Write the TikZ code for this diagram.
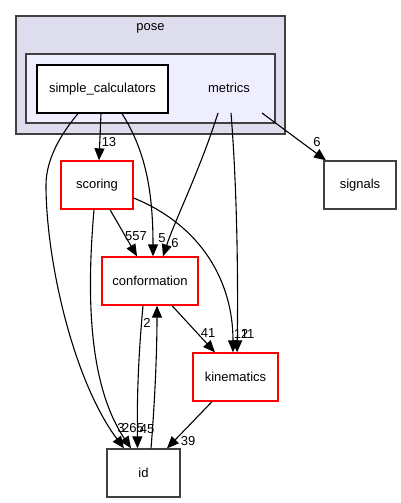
\documentclass[tikz,border=0pt]{standalone}
\usepackage{fontspec}
\setmainfont{Liberation Sans}
\usetikzlibrary{arrows.meta}
\definecolor{gborder}{HTML}{404040}
\definecolor{posefill}{HTML}{DDDDEE}
\definecolor{metfill}{HTML}{EEEEFF}
\tikzset{
  box/.style={draw, line width=1.3pt, rectangle, minimum height=48pt, inner sep=0pt, fill=white, font=\fontsize{13}{15}\selectfont},
  redbox/.style={box, draw=red},
  graybox/.style={box, draw=gborder, line width=1.3pt},
  blackbox/.style={box, draw=black, line width=1.2pt},
  edge/.style={line width=1.1pt, -{Triangle[length=12pt,width=10pt]}},
  lbl/.style={font=\fontsize{13}{15}\selectfont, inner sep=0pt},
  clus/.style={draw=gborder, line width=1.4pt}
}
\begin{document}
\begin{tikzpicture}[x=1pt,y=-1pt]
\useasboundingbox (0,0) rectangle (401,503);
% clusters
\draw[clus, fill=posefill] (16,16) rectangle (285,134);
\node[font=\fontsize{13}{15}\selectfont] (pose) at (150.5,28) {pose};
\draw[clus, fill=metfill] (26,54) rectangle (275,123);
\node[font=\fontsize{13}{15}\selectfont] (metrics) at (229,88) {metrics};
% nodes
\node[blackbox, minimum width=131pt] (sim) at (102.5,89) {simple\_calculators};
\node[redbox, minimum width=72pt] (scoring) at (97,185) {scoring};
\node[graybox, minimum width=72pt] (signals) at (360,185) {signals};
\node[redbox, minimum width=96pt] (conf) at (150,281) {conformation};
\node[redbox, minimum width=85pt] (kin) at (235.5,377) {kinematics};
\node[graybox, minimum width=73pt] (id) at (143.5,473) {id};
% edges
\draw[edge] ([xshift=-24.5pt]sim.south) .. controls (60,135) and (46,160) .. (46,185) .. controls (46,260) and (73,380) .. ([xshift=-19.5pt]id.north);
\draw[edge] ([xshift=-1.5pt]sim.south) -- ([xshift=2pt]scoring.north);
\draw[edge] ([xshift=19.5pt]sim.south) .. controls (145,150) and (153,190) .. ([xshift=3pt]conf.north);
\draw[edge] ([xshift=-11pt,yshift=-25pt]metrics.center) .. controls (200,170) and (175,220) .. ([xshift=13pt]conf.north);
\draw[edge] ([xshift=2pt,yshift=-25pt]metrics.center) .. controls (238,200) and (238,300) .. ([xshift=1.5pt]kin.north);
\draw[edge] ([xshift=33pt,yshift=-25pt]metrics.center) -- ([xshift=-34pt]signals.north);
\draw[edge] ([xshift=13pt]scoring.south) -- ([xshift=-13pt]conf.north);
\draw[edge] ([yshift=-13pt]scoring.east) .. controls (200,225) and (233,280) .. ([xshift=-2.5pt]kin.north);
\draw[edge] ([xshift=-3pt]scoring.south) .. controls (88,280) and (85,380) .. ([xshift=-12.5pt]id.north);
\draw[edge] ([xshift=-7pt]conf.south) .. controls (138,360) and (137,400) .. ([xshift=-6pt]id.north);
\draw[edge] ([xshift=7.5pt]id.north) .. controls (155,400) and (157,350) .. ([xshift=7pt]conf.south);
\draw[edge] ([xshift=22pt]conf.south) -- ([xshift=-20.5pt]kin.north);
\draw[edge] ([xshift=-23.5pt]kin.south) -- ([xshift=23.5pt]id.north);
% labels
\node[lbl] (l13) at (109,142) {13};
\node[lbl] (l557) at (136,236) {557};
\node[lbl] (l5) at (162,238) {5};
\node[lbl] (l6a) at (175,243) {6};
\node[lbl] (l6b) at (317,142) {6};
\node[lbl] (l41) at (208,333) {41};
\node[lbl] (l12) at (241,334) {12};
\node[lbl] (l11) at (247.5,334) {11};
\node[lbl] (l2) at (147,323) {2};
\node[lbl] (l3) at (121,428) {3};
\node[lbl] (l265) at (133,428) {265};
\node[lbl] (l45) at (147,429) {45};
\node[lbl] (l39) at (188,441) {39};
\end{tikzpicture}
\end{document}
